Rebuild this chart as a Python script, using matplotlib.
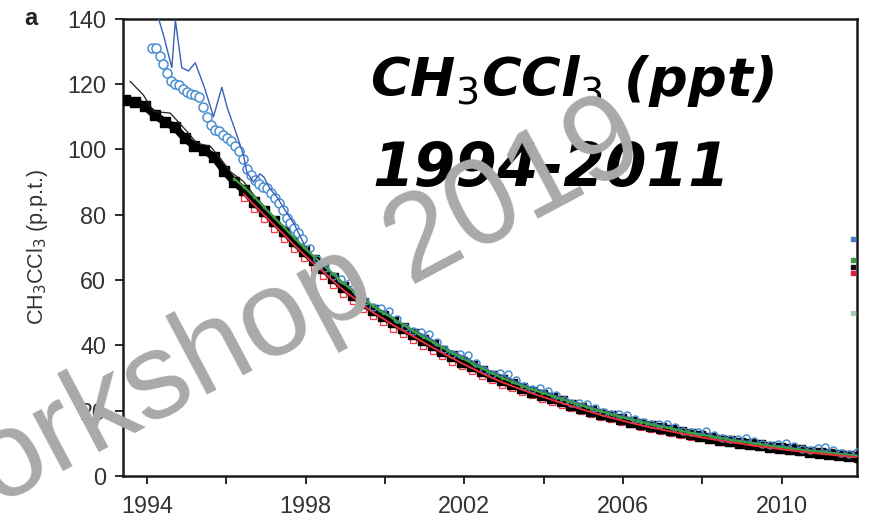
import numpy as np
import matplotlib
matplotlib.use("Agg")
import matplotlib.pyplot as plt

plt.rcParams['mathtext.fontset'] = 'dejavusans'

# black squares, quarterly from 1993.45
black_start = 1993.45
black_vals = [115.0, 114.6, 113.2,
              110.5, 108.4, 106.8, 103.5,
              101.0, 99.8, 97.5, 93.5,
              90.0, 87.5, 84.0, 81.0,
              78.0, 75.0, 71.8, 68.8,
              66.0, 63.5, 60.5, 57.8,
              55.5, 53.0, 50.8, 49.0,
              47.0, 45.3, 43.5, 41.6,
              40.0, 38.3, 36.6, 35.0,
              33.5, 32.0, 30.5, 29.2,
              28.0, 26.9, 25.8, 24.8,
              23.8, 22.8, 21.8, 20.8,
              19.9, 19.0, 18.2, 17.4,
              16.6, 15.9, 15.2, 14.5,
              13.9, 13.3, 12.7, 12.1,
              11.6, 11.1, 10.6, 10.1,
              9.7, 9.3, 8.9, 8.5,
              8.1, 7.8, 7.4, 7.1,
              6.8, 6.5, 6.2, 5.9]

# thin black line (early years only)
thin_t = [1993.58, 1993.91, 1994.17, 1994.59, 1995.01, 1995.26, 1995.60,
          1995.85, 1996.10, 1996.44, 1996.69, 1997.00, 1997.30]
thin_vals = [120.8, 116.7, 111.6, 111.1, 105.5, 101.9, 100.9,
             97.3, 93.2, 90.1, 86.1, 82.0, 78.0]

# blue open circles
bc_early_start = 1994.12
bc_early = [131.0, 131.0, 128.5, 126.0, 123.5, 121.0, 120.0, 119.8, 118.5, 117.5,
            117.0, 116.5, 116.0, 113.0, 110.0, 107.5, 106.0, 105.5, 104.5, 103.5,
            102.5, 101.0, 99.5, 97.0, 94.0, 92.0, 90.5, 89.5, 88.5, 88.0,
            86.5, 85.0, 83.5, 81.5, 79.0, 77.5, 76.0, 74.5, 72.5]
bc_late_start = 1998.1
bc_late = [69.9, 66.3, 63.7, 61.3, 60.3,
           59.2, 56.3, 53.4, 51.6, 51.4,
           50.6, 48.1, 45.7, 44.3, 44.0,
           43.4, 41.1, 38.8, 37.4, 37.3,
           36.9, 34.7, 32.5, 31.3, 31.5,
           31.3, 29.4, 27.5, 26.6, 27.0,
           26.0, 24.6, 23.2, 22.4, 22.2,
           22.1, 20.7, 19.4, 18.8, 18.8,
           18.7, 17.5, 16.4, 15.8, 15.8,
           15.9, 14.8, 13.7, 13.3, 13.4,
           13.6, 12.6, 11.6, 11.2, 11.4,
           11.7, 10.7, 9.8, 9.5, 9.8,
           10.1, 9.2, 8.3, 8.0, 8.4,
           8.7, 7.9, 7.0, 6.8, 7.2]

# blue thin line
bl_early_t = [1994.15, 1994.42, 1994.63, 1994.72, 1994.88, 1995.05, 1995.22, 1995.45,
              1995.68, 1995.89, 1996.02, 1996.25, 1996.44, 1996.52, 1996.69, 1996.85,
              1996.95, 1997.10, 1997.30, 1997.50, 1997.72]
bl_early = [146.0, 135.0, 125.0, 139.5, 125.0, 124.0, 126.5, 119.0,
            110.0, 119.0, 113.0, 105.0, 98.0, 93.0, 90.0, 92.5,
            91.5, 88.0, 85.0, 81.0, 77.0]
bl_late_start = 1998.0
bl_late = [70.0, 66.5, 63.8, 61.0, 58.8, 56.5, 53.8, 51.6, 50.2, 48.0, 46.0, 44.5,
           43.0, 41.2, 39.2, 37.8, 36.5, 34.8, 33.0, 31.6, 30.6, 29.2, 27.8, 26.8,
           26.0, 24.8, 23.6, 22.6, 21.9, 20.8, 19.7, 18.9, 18.3, 17.4, 16.5, 15.8,
           15.4, 14.6, 13.8, 13.2, 12.9, 12.3, 11.6, 11.1, 10.8, 10.3, 9.7, 9.3,
           9.1, 8.6, 8.1, 7.8, 7.6, 7.2, 6.8, 6.5, 6.4]

# green line from 1996.20, red line and red squares from 1996.45
green_start = 1996.20
green_vals = [91.0, 88.5, 85.5, 82.3, 79.2, 76.2, 73.0, 70.0, 67.2, 64.6, 61.8, 59.0,
              56.6, 54.3, 52.0, 50.0, 48.2, 46.3, 44.5, 42.6, 41.0, 39.3, 37.6, 36.0,
              34.4, 32.9, 31.4, 30.0, 28.8, 27.6, 26.5, 25.5, 24.5, 23.5, 22.5, 21.6,
              20.6, 19.7, 18.9, 18.0, 17.3, 16.5, 15.8, 15.1, 14.5, 13.8, 13.2, 12.6,
              12.1, 11.6, 11.0, 10.6, 10.1, 9.7, 9.2, 8.8, 8.4, 8.0, 7.7, 7.4,
              7.0, 6.7, 6.4, 6.1]
red_start = 1996.45
red_vals = [86.2, 83.0, 80.0, 76.9, 74.0, 70.8, 67.9, 65.0, 62.5, 59.6, 56.9, 54.6,
            52.2, 50.0, 48.2, 46.2, 44.5, 42.8, 41.0, 39.3, 37.6, 36.0, 34.4, 32.9,
            31.4, 30.0, 28.7, 27.5, 26.4, 25.3, 24.3, 23.3, 22.3, 21.4, 20.4, 19.5,
            18.6, 17.8, 17.0, 16.2, 15.5, 14.8, 14.2, 13.6, 13.0, 12.4, 11.8, 11.3,
            10.8, 10.3, 9.9, 9.4, 9.0, 8.6, 8.2, 7.8, 7.5, 7.1, 6.8, 6.5,
            6.2, 5.9, 5.6]
redsq_vals = [85.0, 81.8, 78.6, 75.6, 72.6, 69.5, 66.6, 63.8, 61.2, 58.3, 55.7, 53.4,
              51.1, 48.9, 47.1, 45.1, 43.4, 41.7, 39.9, 38.3, 36.6, 35.0, 33.5, 32.0,
              30.6, 29.2, 27.9, 26.8, 25.7, 24.6, 23.6, 22.6, 21.7, 20.7, 19.8, 18.9,
              18.1, 17.3, 16.5, 15.8, 15.1, 14.4, 13.8, 13.2, 12.6, 12.0, 11.5, 11.0,
              10.5, 10.0, 9.6, 9.2, 8.8, 8.4, 8.0, 7.6, 7.3, 7.0, 6.7, 6.4,
              6.1, 5.8, 5.5]

# stray marks at the right edge
edge_vals = [72.5, 66.0, 64.0, 62.0, 50.0]
edge_cols = ['#4a7fc8', '#3a9a40', '#111111', '#e0203a', '#9fcfaf']

yticks = [0, 20, 40, 60, 80, 100, 120, 140]
xticks = [1994, 1996, 1998, 2000, 2002, 2004, 2006, 2008, 2010]
xlabels = ['1994', '', '1998', '', '2002', '', '2006', '', '2010']


def grid(start, vals, step):
    return start + step * np.arange(len(vals))


fig = plt.figure(figsize=(8.69, 5.2), dpi=100)
ax = fig.add_axes([0.142, 0.085, 0.844, 0.879])

ax.plot(grid(red_start, redsq_vals, 0.25), redsq_vals, 's', ms=4.5, mfc='white',
        mec='#ff3344', mew=0.9, zorder=2)
ax.plot(grid(black_start, black_vals, 0.25), black_vals, '-', color='black', lw=5.5, zorder=3)
ax.plot(grid(black_start, black_vals, 0.25), black_vals, 's', ms=6.5, color='black', zorder=3)
ax.plot(thin_t, thin_vals, '-', color='#222222', lw=0.9, zorder=3)
ax.plot(grid(bc_early_start, bc_early, 0.1), bc_early, 'o', ms=6.5, mfc='white',
        mec='#4a8fd0', mew=1.1, zorder=4)
ax.plot(grid(bc_late_start, bc_late, 0.2), bc_late, 'o', ms=5, mfc='none',
        mec='#4a8fd0', mew=1.1, zorder=4)
ax.plot(bl_early_t + list(grid(bl_late_start, bl_late, 0.25)), bl_early + bl_late,
        '-', color='#3b5fb8', lw=1.0, zorder=5)
ax.plot(grid(green_start, green_vals, 0.25), green_vals, '-', color='#3aa040', lw=1.6, zorder=6)
ax.plot(grid(green_start, green_vals, 0.25), green_vals, '.', color='#3aa040', ms=3, zorder=6)
ax.plot(grid(red_start, red_vals, 0.25), red_vals, '-', color='#e8303a', lw=1.4, zorder=7)

for v, c in zip(edge_vals, edge_cols):
    ax.plot([2011.8], [v], 's', ms=3, color=c, zorder=8)

ax.set_xlim(1993.41, 2011.89)
ax.set_ylim(0, 140)
ax.set_yticks(yticks)
ax.set_xticks(xticks)
ax.set_xticklabels(xlabels)
for s in ax.spines.values():
    s.set_linewidth(1.8)
    s.set_color('#1a1a1a')
ax.tick_params(direction='out', length=6, width=1.3, color='#1a1a1a',
               labelsize=16.8, labelcolor='#333333')
ax.tick_params(axis='x', pad=7.5)
ax.tick_params(axis='y', pad=6.5)
for lab in ax.get_xticklabels() + ax.get_yticklabels():
    lab.set_family(['Liberation Sans', 'DejaVu Sans'])
ax.set_ylabel('CH$_3$CCl$_3$ (p.p.t.)', fontsize=15.5, color='#333333',
              family=['Liberation Sans', 'DejaVu Sans'])
ax.yaxis.set_label_coords(-0.100, 0.5)

fig.text(0.028, 0.952, 'a', fontsize=17, fontweight='bold', color='#222222',
         family=['Liberation Sans', 'DejaVu Sans'])

# handwritten overlay
fig.text(0.426, 0.816, 'CH$_3$CCl$_3$ (ppt)', fontsize=39, fontweight='bold',
         style='italic', color='black', family='DejaVu Sans', zorder=20)
fig.text(0.429, 0.643, '1994-2011', fontsize=43, fontweight='bold',
         style='italic', color='black', family='DejaVu Sans', zorder=20)

# grey watermark
fig.text(-0.119, -0.077, 'Workshop 2019', fontsize=88, color='#a9a9a9',
         family=['Liberation Sans', 'DejaVu Sans'], rotation=28,
         rotation_mode='anchor', ha='left', va='baseline', zorder=30)

fig.savefig('out.png', dpi=100)
